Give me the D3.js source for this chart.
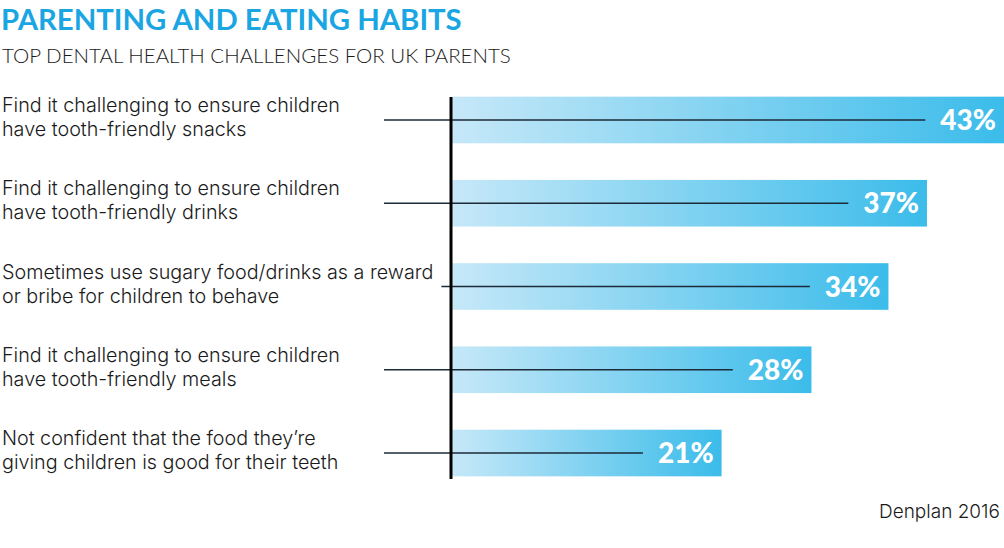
<!DOCTYPE html>
<html><head><meta charset="utf-8">
<script src="https://cdn.jsdelivr.net/npm/d3@7"></script>
<style>body{margin:0;background:#fff}svg{display:block}</style>
</head><body>
<script>
const categories = [
  ["Find it challenging to ensure children", "have tooth-friendly snacks"],
  ["Find it challenging to ensure children", "have tooth-friendly drinks"],
  ["Sometimes use sugary food/drinks as a reward", "or bribe for children to behave"],
  ["Find it challenging to ensure children", "have tooth-friendly meals"],
  ["Not confident that the food they\u2019re", "giving children is good for their teeth"]
];
const values = [43, 37, 34, 28, 21];
const valueLabels = ["43%", "37%", "34%", "28%", "21%"];
const title = "PARENTING AND EATING HABITS";
const subtitle = "TOP DENTAL HEALTH CHALLENGES FOR UK PARENTS";
const source = "Denplan 2016";

const W = 1004, H = 548;
const svg = d3.select("body").append("svg").attr("width", W).attr("height", H);
const font = "Lato, 'Noto Sans', sans-serif";
const labFont = "Inter, Lato, sans-serif";

// fit label font size so the first label line spans ~338px
const probe = svg.append("text").attr("font-family", labFont).attr("font-weight", 300)
  .attr("font-size", 100).text(categories[0][0]);
const labSize = Math.min(20, 338 / probe.node().getComputedTextLength() * 100);
probe.remove();

const defs = svg.append("defs");
const grad = defs.append("linearGradient").attr("id", "barGrad")
  .attr("x1", "0%").attr("x2", "100%").attr("y1", "0%").attr("y2", "0%");
grad.append("stop").attr("offset", "0%").attr("stop-color", "#c6e8f8");
grad.append("stop").attr("offset", "100%").attr("stop-color", "#3bbcea");

const x0 = 452;
const x = d3.scaleLinear().domain([0, 43]).range([x0, 1004]);
const y = d3.scaleBand().domain(d3.range(values.length)).range([95, 478]).paddingInner(0.44).paddingOuter(0.02);

svg.append("text").attr("x", 1).attr("y", 30).text(title)
  .attr("font-family", font).attr("font-weight", 700).attr("font-size", 29.3)
  .attr("fill", "#1aa5e3");
svg.append("text").attr("x", 2).attr("y", 63).text(subtitle)
  .attr("font-family", font).attr("font-weight", 300).attr("font-size", 20.5)
  .attr("fill", "#1a1a1a");

const g = svg.append("g");
const rows = g.selectAll("g.row").data(values).join("g").attr("class", "row");

rows.append("rect")
  .attr("x", x0)
  .attr("y", (d, i) => y(i))
  .attr("width", d => x(d) - x0)
  .attr("height", y.bandwidth())
  .attr("fill", "url(#barGrad)");

rows.append("text")
  .attr("class", "val")
  .attr("x", d => x(d) - 8)
  .attr("y", (d, i) => y(i) + y.bandwidth() / 2 + 10)
  .attr("text-anchor", "end")
  .attr("font-family", font).attr("font-weight", 900).attr("font-size", 28)
  .attr("fill", "#fff")
  .text((d, i) => valueLabels[i]);

const lab = rows.append("text")
  .attr("class", "lab")
  .attr("font-family", labFont).attr("font-weight", 300).attr("font-size", labSize)
  .attr("fill", "#1a1a1a");
lab.each(function(d, i) {
  const t = d3.select(this);
  const cy = y(i) + y.bandwidth() / 2;
  categories[i].forEach((line, k) => {
    t.append("tspan").attr("x", 2).attr("y", cy - 8 + k * 24).text(line);
  });
});

// leader lines
rows.each(function(d, i) {
  const row = d3.select(this);
  const labelEnd = d3.max(row.selectAll("tspan").nodes(), n => n.getComputedTextLength()) + 2;
  const vW = row.select("text.val").node().getComputedTextLength();
  const cy = y(i) + y.bandwidth() / 2;
  row.append("line")
    .attr("x1", Math.max(labelEnd + 8, 384))
    .attr("x2", x(d) - 8 - vW - 15)
    .attr("y1", cy).attr("y2", cy)
    .attr("stroke", "#1d2b38").attr("stroke-width", 1.3);
});

svg.append("line").attr("x1", 451).attr("x2", 451).attr("y1", 97).attr("y2", 479)
  .attr("stroke", "#000").attr("stroke-width", 3);

svg.append("text").attr("x", 1000).attr("y", 518).attr("text-anchor", "end")
  .attr("font-family", labFont).attr("font-weight", 300).attr("font-size", 19)
  .attr("fill", "#1a1a1a").text(source);
</script>
</body></html>
